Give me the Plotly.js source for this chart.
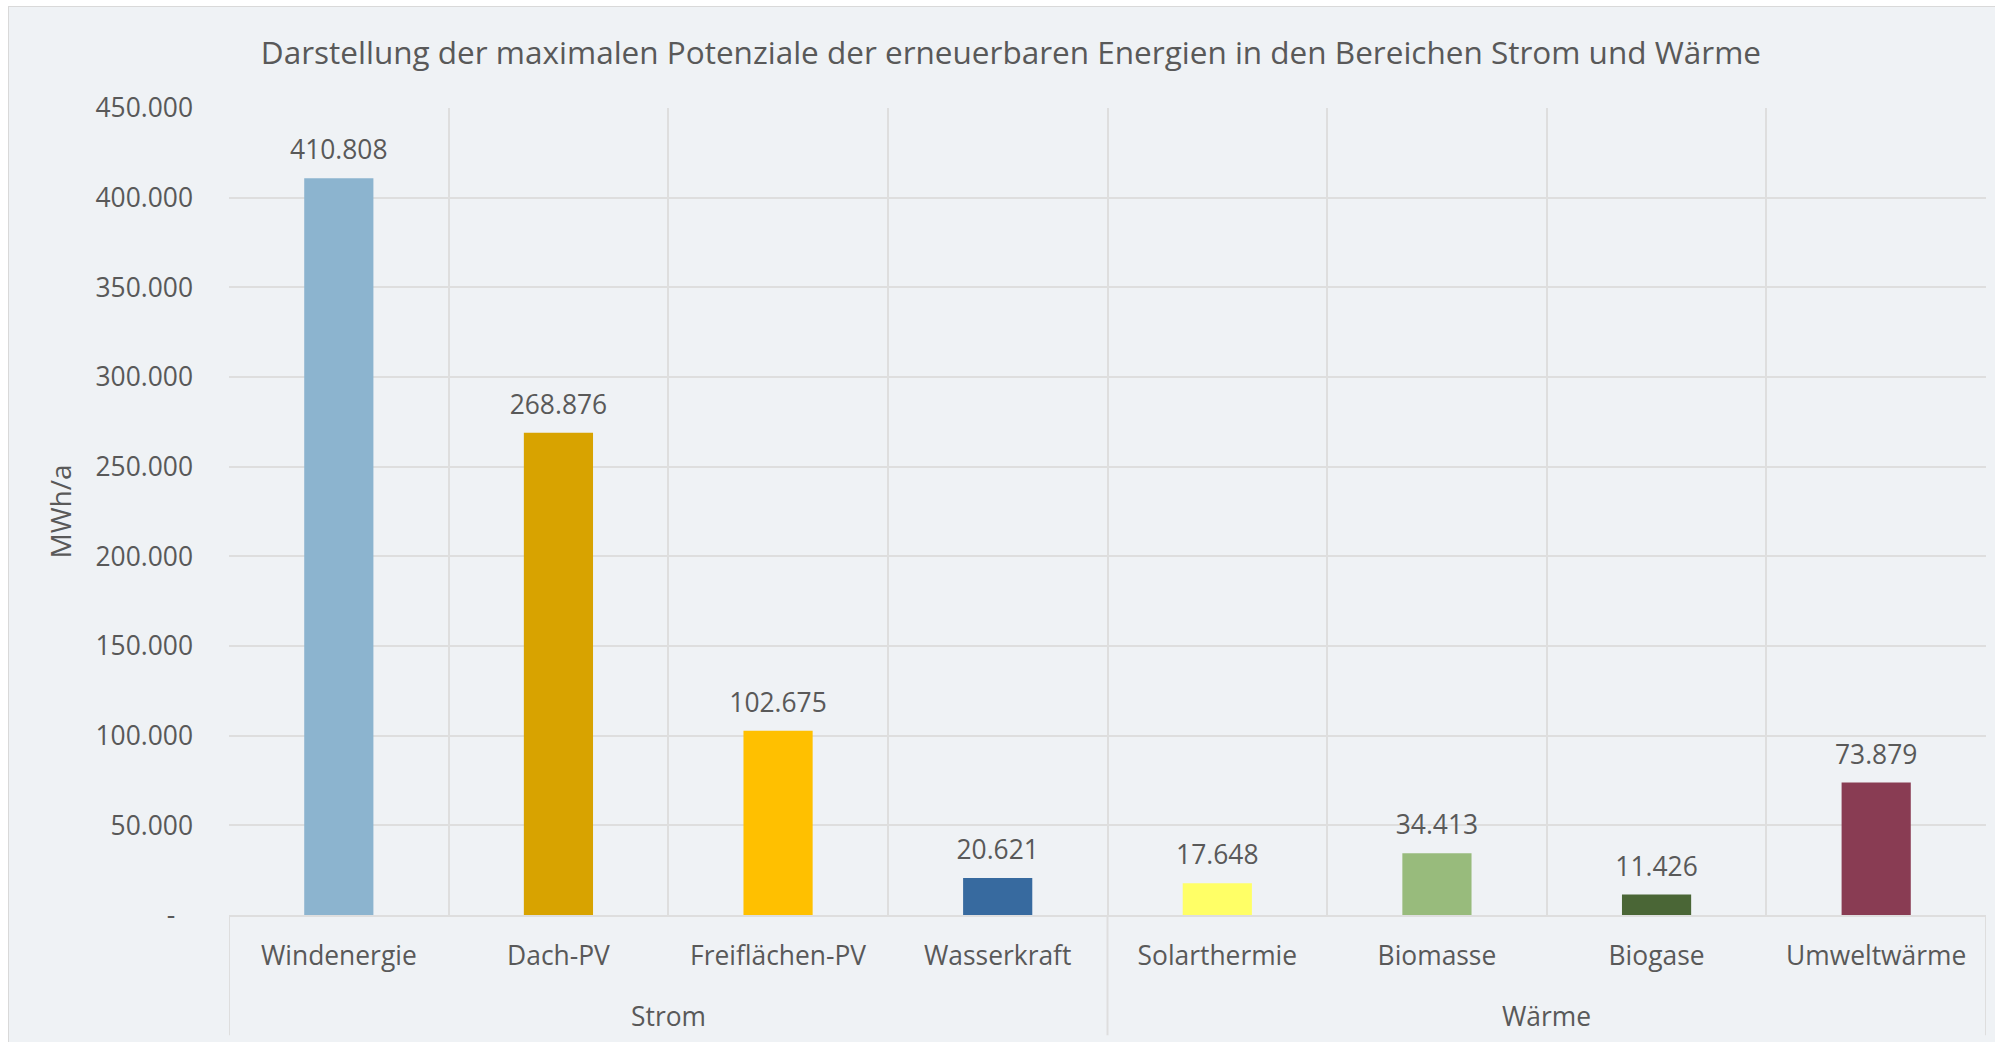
<!DOCTYPE html>
<html>
<head>
<meta charset="utf-8">
<script src="https://cdn.plot.ly/plotly-3.0.1.min.js"></script>
<style>
  html, body { margin: 0; padding: 0; background: #ffffff; overflow: hidden; }
  #chart { position: absolute; left: 8px; top: 6px; width: 1988px; height: 1037px;
           border-left: 1px solid #d9d9d9; border-top: 1px solid #d9d9d9; background: #eff2f5; }
</style>
</head>
<body>
<div id="chart"></div>
<script>
const titleText = 'Darstellung der maximalen Potenziale der erneuerbaren Energien in den Bereichen Strom und Wärme';
const groups = ['Strom', 'Strom', 'Strom', 'Strom', 'Wärme', 'Wärme', 'Wärme', 'Wärme'];
const categories = ['Windenergie', 'Dach-PV', 'Freiflächen-PV', 'Wasserkraft', 'Solarthermie', 'Biomasse', 'Biogase', 'Umweltwärme'];
const values = [410808, 268876, 102675, 20621, 17648, 34413, 11426, 73879];
const barColors = ['#8cb4cf', '#d8a300', '#ffc000', '#376a9f', '#ffff66', '#98bb7c', '#4a6636', '#893c53'];
const yTickVals = [0, 50000, 100000, 150000, 200000, 250000, 300000, 350000, 400000, 450000];
const yTickText = ['-\u2007\u200A', '50.000', '100.000', '150.000', '200.000', '250.000', '300.000', '350.000', '400.000', '450.000'];
const yTitle = 'MWh/a';

const FONT = 'Open Sans, Noto Sans, sans-serif';
const TXT = '#595959';
const GRID = '#dedede';
const FS = 26.4;

// group spans (by category index) derived from the groups array
const groupNames = [];
const groupStart = {};
const groupEnd = {};
groups.forEach((g, i) => {
  if (!(g in groupStart)) { groupNames.push(g); groupStart[g] = i; }
  groupEnd[g] = i;
});

const bars = {
  type: 'bar',
  x: categories,
  y: values,
  marker: { color: barColors },
  hoverinfo: 'skip'
};

const labels = {
  type: 'scatter',
  mode: 'markers+text',
  x: categories,
  y: values,
  marker: { size: 18, color: 'rgba(0,0,0,0)' },
  texttemplate: '%{y:,.0f}',
  textposition: 'top center',
  textfont: { family: FONT, size: FS, color: TXT },
  cliponaxis: false,
  hoverinfo: 'skip'
};

const groupAnnotations = groupNames.map(g => ({
  xref: 'x', yref: 'paper',
  x: (groupStart[g] + groupEnd[g]) / 2,
  y: -0.1255, yanchor: 'middle', xanchor: 'center',
  text: g, showarrow: false,
  font: { family: FONT, size: FS, color: TXT }
}));

const dividerPositions = [];
groupNames.forEach((g, k) => {
  if (k === 0) dividerPositions.push(groupStart[g] - 0.5);
  dividerPositions.push(groupEnd[g] + 0.5);
});
const dividerShapes = dividerPositions.map(p => ({
  type: 'line', xref: 'x', yref: 'paper',
  x0: p, x1: p, y0: 0, y1: -0.149,
  line: { color: GRID, width: 2 }
}));

const layout = {
  width: 1988,
  height: 1037,
  separators: ',.',
  paper_bgcolor: '#eff2f5',
  plot_bgcolor: '#eff2f5',
  font: { family: FONT, color: TXT, size: FS },
  margin: { l: 220, r: 11, t: 101, b: 129, pad: 0 },
  showlegend: false,
  bargap: 0.685,
  title: {
    text: titleText,
    font: { family: FONT, size: 31.5, color: TXT },
    x: 0.504, xanchor: 'center', xref: 'container',
    y: 1 - 46 / 1037, yanchor: 'middle', yref: 'container'
  },
  xaxis: {
    type: 'category',
    range: [-0.5, categories.length - 0.5],
    tickson: 'boundaries',
    showgrid: true,
    gridcolor: GRID,
    gridwidth: 2,
    showline: true,
    linecolor: GRID,
    linewidth: 2,
    ticks: '',
    ticklabelstandoff: 16,
    tickfont: { family: FONT, size: FS, color: TXT },
    zeroline: false
  },
  yaxis: {
    range: [0, 450000],
    tickvals: yTickVals,
    ticktext: yTickText,
    showgrid: true,
    gridcolor: GRID,
    gridwidth: 2,
    zeroline: false,
    showline: false,
    ticks: '',
    ticklabelstandoff: 35,
    tickfont: { family: FONT, size: FS, color: TXT },
    title: { text: yTitle, font: { family: FONT, size: 28, color: TXT }, standoff: 15 }
  },
  annotations: groupAnnotations,
  shapes: dividerShapes
};

Plotly.newPlot('chart', [bars, labels], layout, { displayModeBar: false, staticPlot: true });
</script>
</body>
</html>
